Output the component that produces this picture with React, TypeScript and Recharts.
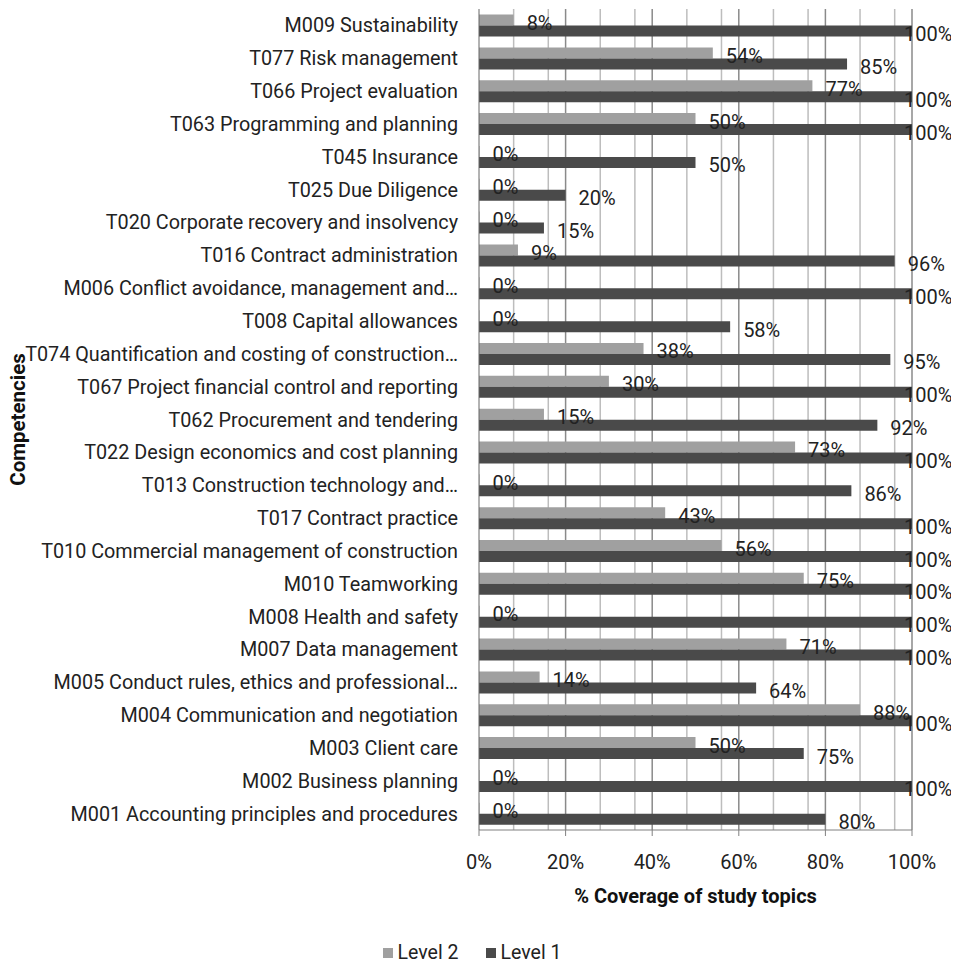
import React from "react";
import {
  BarChart,
  Bar,
  XAxis,
  YAxis,
  CartesianGrid,
  Legend,
  LabelList,
} from "recharts";

const categories = [
  "M009 Sustainability",
  "T077 Risk management",
  "T066 Project evaluation",
  "T063 Programming and planning",
  "T045 Insurance",
  "T025 Due Diligence",
  "T020 Corporate recovery and insolvency",
  "T016 Contract administration",
  "M006 Conflict avoidance, management and…",
  "T008 Capital allowances",
  "T074 Quantification and costing of construction…",
  "T067 Project financial control and reporting",
  "T062 Procurement and tendering",
  "T022 Design economics and cost planning",
  "T013 Construction technology and…",
  "T017 Contract practice",
  "T010 Commercial management of construction",
  "M010 Teamworking",
  "M008 Health and safety",
  "M007 Data management",
  "M005 Conduct rules, ethics and professional…",
  "M004 Communication and negotiation",
  "M003 Client care",
  "M002 Business planning",
  "M001 Accounting principles and procedures",
];

const level2 = [8, 54, 77, 50, 0, 0, 0, 9, 0, 0, 38, 30, 15, 73, 0, 43, 56, 75, 0, 71, 14, 88, 50, 0, 0];
const level1 = [100, 85, 100, 100, 50, 20, 15, 96, 100, 58, 95, 100, 92, 100, 86, 100, 100, 100, 100, 100, 64, 100, 75, 100, 80];

const xTicks = [0, 20, 40, 60, 80, 100];
const minorGrid = [4, 8, 12, 16, 24, 28, 32, 36, 44, 48, 52, 56, 64, 68, 72, 76, 84, 88, 92, 96];
const majorGrid = [20, 40, 60, 80, 100];

const data = categories.map((name, i) => ({ name, level2: level2[i], level1: level1[i] }));

const FONT = "Roboto, sans-serif";
const CHART_W = 951;
const CHART_H = 957;
const LEGEND_H = 20;
const PLOT_BOTTOM = 822;
const LABEL_FS = 20;
const TICK_FS = 19.8;
const LIGHT = "#a0a0a0";
const DARK = "#4a4a4a";

const renderValueLabel = (props: any) => {
  const { x, y, width, height, value } = props;
  const text = `${value}%`;
  const est = text.length * LABEL_FS * 0.6;
  let tx = Number(x) + Number(width) + 13;
  const maxRight = CHART_W - 7;
  if (tx + est > maxRight) tx = maxRight - est;
  return (
    <text
      x={tx}
      y={Number(y) + Number(height) / 2 + 3}
      dominantBaseline="central"
      fontFamily={FONT}
      fontSize={LABEL_FS}
      fill="#222"
    >
      {text}
    </text>
  );
};

const renderLegend = () => (
  <div
    style={{
      display: "flex",
      justifyContent: "center",
      alignItems: "center",
      height: LEGEND_H,
      fontFamily: FONT,
      fontSize: 19.5,
      color: "#222",
      lineHeight: `${LEGEND_H}px`,
      paddingRight: 23,
      boxSizing: "border-box",
    }}
  >
    <span style={{ display: "flex", alignItems: "center", marginRight: 27 }}>
      <span style={{ width: 10, height: 10, background: LIGHT, display: "inline-block", marginRight: 5 }} />
      Level 2
    </span>
    <span style={{ display: "flex", alignItems: "center" }}>
      <span style={{ width: 10, height: 10, background: DARK, display: "inline-block", marginRight: 5 }} />
      Level 1
    </span>
  </div>
);

export default function App() {
  return (
    <div style={{ width: CHART_W, height: CHART_H, position: "relative" }}>
      <style>{"html, body { overflow: hidden; }"}</style>
      <BarChart
        width={CHART_W}
        height={CHART_H}
        data={data}
        layout="vertical"
        margin={{ top: 1, right: 47, left: 0, bottom: 0 }}
        barCategoryGap="17%"
        barGap={0}
      >
        <CartesianGrid
          horizontal={false}
          verticalValues={minorGrid}
          stroke="#bdbdbd"
          strokeWidth={1.5}
        />
        <CartesianGrid
          horizontal={false}
          verticalValues={majorGrid}
          stroke="#8a8a8a"
          strokeWidth={1.5}
        />
        <XAxis
          type="number"
          domain={[0, 100]}
          ticks={xTicks}
          tickFormatter={(v) => `${v}%`}
          height={CHART_H - LEGEND_H - PLOT_BOTTOM}
          stroke="#808080"
          tickSize={6}
          tickMargin={19}
          tick={{ fontFamily: FONT, fontSize: 20, fill: "#222" }}
          label={{
            value: "% Coverage of study topics",
            position: "insideTop",
            offset: 59,
            style: { fontFamily: FONT, fontSize: 20, fontWeight: 700, fill: "#111" },
          }}
        />
        <YAxis
          type="category"
          dataKey="name"
          width={471}
          stroke="#666"
          tickLine={false}
          tickSize={0}
          tickMargin={21}
          interval={0}
          tick={{ fontFamily: FONT, fontSize: TICK_FS, fill: "#222" }}
          label={{
            value: "Competencies",
            angle: -90,
            position: "insideLeft",
            offset: 10,
            style: { fontFamily: FONT, fontSize: 20.5, fontWeight: 700, fill: "#111", textAnchor: "middle" },
          }}
        />
        <Legend
          verticalAlign="bottom"
          content={renderLegend}
          wrapperStyle={{ top: CHART_H - LEGEND_H - 2, left: 0, width: CHART_W }}
        />
        <Bar dataKey="level2" name="Level 2" fill={LIGHT} minPointSize={0.5} isAnimationActive={false}>
          <LabelList dataKey="level2" content={renderValueLabel} />
        </Bar>
        <Bar dataKey="level1" name="Level 1" fill={DARK} minPointSize={0.5} isAnimationActive={false}>
          <LabelList dataKey="level1" content={renderValueLabel} />
        </Bar>
      </BarChart>
    </div>
  );
}
